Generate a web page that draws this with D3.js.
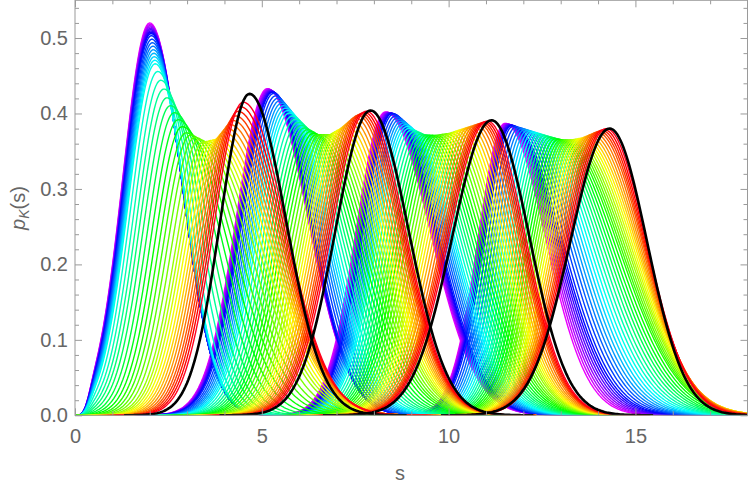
<!DOCTYPE html>
<html>
<head>
<meta charset="utf-8">
<script src="https://cdn.jsdelivr.net/npm/d3@7"></script>
<style>
  body { margin: 0; background: #fff; }
  .axis text { font-family: "Liberation Sans", Arial, sans-serif; font-size: 20px; fill: #666; }
  .axis line { stroke: #9a9a9a; }
</style>
</head>
<body>
<div id="chart"></div>
<script>
// parameter stops along the colour sweep (magenta ... red)
const stopT = [0, 0.2, 0.4, 0.5, 0.6, 0.7, 0.8, 0.9, 1];

// k = 1 : peak position, peak height, left / right widths at each stop
const peak1 = [2.0, 2.04, 2.15, 2.5, 2.95, 3.45, 3.85, 4.2, 4.5];
const height1 = [0.52, 0.505, 0.465, 0.415, 0.375, 0.362, 0.367, 0.389, 0.415];
const left1 = [0.72, 0.72, 0.72, 0.72, 0.72, 0.75, 0.78, 0.78, 0.78];
const right1 = [0.85, 0.83, 0.82, 1.0, 1.25, 1.38, 1.39, 1.28, 1.14];

// k = 2
const peak2 = [5.15, 5.3, 5.75, 6.1, 6.45, 6.85, 7.2, 7.55, 7.8];
const height2 = [0.433, 0.428, 0.40, 0.382, 0.372, 0.372, 0.382, 0.397, 0.403];
const left2 = [0.83, 0.84, 0.85, 0.86, 0.87, 0.88, 0.9, 0.92, 0.93];
const right2 = [1.08, 1.02, 1.14, 1.2, 1.27, 1.25, 1.2, 1.12, 1.05];

// k = 3
const peak3 = [8.31, 8.5, 8.95, 9.3, 9.65, 10.05, 10.42, 10.8, 11.04];
const height3 = [0.402, 0.40, 0.38, 0.372, 0.371, 0.374, 0.38, 0.386, 0.39];
const left3 = [0.79, 0.8, 0.85, 0.87, 0.9, 0.93, 0.97, 1.0, 1.03];
const right3 = [1.2, 1.2, 1.25, 1.25, 1.25, 1.2, 1.13, 1.07, 1.02];

// k = 4
const peak4 = [11.51, 11.7, 12.35, 12.68, 13.0, 13.3, 13.62, 13.95, 14.22];
const height4 = [0.387, 0.384, 0.374, 0.369, 0.365, 0.365, 0.368, 0.375, 0.38];
const left4 = [0.72, 0.75, 0.8, 0.83, 0.85, 0.87, 0.9, 0.95, 1.0];
const right4 = [1.09, 1.3, 1.43, 1.5, 1.55, 1.5, 1.4, 1.24, 1.08];

// thick black limiting curves
const blackPeak = [4.67, 7.91, 11.15, 14.31];
const blackHeight = [0.426, 0.404, 0.391, 0.38];
const blackLeft = [0.78, 0.94, 1.05, 1.05];
const blackRight = [0.98, 1.02, 1.01, 1.0];

const xMajor = [0, 5, 10, 15];
const yMajor = [0, 0.1, 0.2, 0.3, 0.4, 0.5];

const families = [
  { peak: peak1, height: height1, left: left1, right: right1 },
  { peak: peak2, height: height2, left: left2, right: right2 },
  { peak: peak3, height: height3, left: left3, right: right3 },
  { peak: peak4, height: height4, left: left4, right: right4 }
];
const nCurves = 44;

const width = 750, height = 492;
const plot = { left: 75, right: 747.5, top: 0.3, bottom: 415.3 };

const x = d3.scaleLinear().domain([0, 18]).range([plot.left, plot.right]);
const y = d3.scaleLinear().domain([0, 0.55]).range([plot.bottom, plot.top]);

const svg = d3.select("#chart").append("svg")
  .attr("width", width)
  .attr("height", height);

svg.append("defs").append("clipPath").attr("id", "plotClip")
  .append("rect")
  .attr("x", plot.left).attr("y", plot.top)
  .attr("width", plot.right - plot.left).attr("height", plot.bottom - plot.top);

// value of a stop array at parameter t
function at(arr, t) {
  let j = 0;
  while (j < stopT.length - 2 && t > stopT[j + 1]) j++;
  const f = (t - stopT[j]) / (stopT[j + 1] - stopT[j]);
  return arr[j] + f * (arr[j + 1] - arr[j]);
}

function bump(mu, h, wl, wr) {
  const pts = [];
  const a = Math.max(0, mu - 4.3 * wl), b = Math.min(18, mu + 4.3 * wr);
  for (let s = a; s <= b + 1e-9; s += 0.04) {
    const w = s < mu ? wl : wr;
    // p(0) = 0 : the first peak leaves the origin flat
    const foot = 1 - Math.exp(-Math.pow(s / 0.35, 3));
    pts.push([s, foot * h * Math.exp(-(s - mu) * (s - mu) / (2 * w * w))]);
  }
  return pts;
}

const line = d3.line().x(d => x(d[0])).y(d => y(d[1]));

const curves = [];
for (let i = 0; i < nCurves; i++) {
  const t = i / (nCurves - 1);
  let hue = (0.82 - 0.84 * t) * 360;
  if (hue < 0) hue += 360;
  families.forEach(f => {
    curves.push({
      pts: bump(at(f.peak, t), at(f.height, t), at(f.left, t), at(f.right, t)),
      color: d3.hsl(hue, 1, 0.5).toString(),
      w: 1.4
    });
  });
}
blackPeak.forEach((mu, k) => {
  curves.push({
    pts: bump(mu, blackHeight[k], blackLeft[k], blackRight[k]),
    color: "#000",
    w: 2.6
  });
});

svg.append("g")
  .attr("clip-path", "url(#plotClip)")
  .selectAll("path")
  .data(curves)
  .enter()
  .append("path")
  .attr("d", d => line(d.pts))
  .attr("fill", "none")
  .attr("stroke", d => d.color)
  .attr("stroke-width", d => d.w)
  .attr("stroke-linejoin", "round");

// frame with inward ticks
const xMinor = d3.range(1, 18).filter(v => v % 5 !== 0);
const yMinor = d3.range(0.02, 0.55, 0.02).filter(v => Math.abs(v * 10 - Math.round(v * 10)) > 1e-6);

function addAxis(gen, tr, vals, size, fmt, pad) {
  const g = svg.append("g").attr("class", "axis").attr("transform", tr)
    .call(gen.tickValues(vals).tickSize(size).tickSizeOuter(0).tickFormat(fmt).tickPadding(pad));
  g.select(".domain").remove();
  return g;
}

const blank = () => "";
addAxis(d3.axisBottom(x), `translate(0,${plot.bottom})`, xMajor, -7, d3.format("d"), 14);
addAxis(d3.axisBottom(x), `translate(0,${plot.bottom})`, xMinor, -4, blank, 0);
addAxis(d3.axisTop(x), `translate(0,${plot.top})`, xMajor, -7, blank, 0);
addAxis(d3.axisTop(x), `translate(0,${plot.top})`, xMinor, -4, blank, 0);
addAxis(d3.axisLeft(y), `translate(${plot.left},0)`, yMajor, -7, d3.format(".1f"), 7);
addAxis(d3.axisLeft(y), `translate(${plot.left},0)`, yMinor, -4, blank, 0);
addAxis(d3.axisRight(y), `translate(${plot.right},0)`, yMajor, -7, blank, 0);
addAxis(d3.axisRight(y), `translate(${plot.right},0)`, yMinor, -4, blank, 0);

svg.append("rect")
  .attr("x", plot.left).attr("y", plot.top)
  .attr("width", plot.right - plot.left).attr("height", plot.bottom - plot.top)
  .attr("fill", "none")
  .attr("stroke", "#9a9a9a")
  .attr("stroke-width", 1);

svg.append("text")
  .attr("x", 400)
  .attr("y", 480)
  .attr("text-anchor", "middle")
  .style("font-family", "Liberation Sans, Arial, sans-serif")
  .style("font-size", "20px")
  .style("fill", "#666")
  .text("s");

const yl = svg.append("text")
  .attr("transform", "translate(25,208) rotate(-90)")
  .attr("text-anchor", "middle")
  .style("font-family", "Liberation Sans, Arial, sans-serif")
  .style("font-size", "20px")
  .style("fill", "#666");
yl.append("tspan").style("font-style", "italic").text("p");
yl.append("tspan").style("font-style", "italic").style("font-size", "14px").attr("dy", 4).text("K");
yl.append("tspan").attr("dy", -4).text("(s)");
</script>
</body>
</html>
